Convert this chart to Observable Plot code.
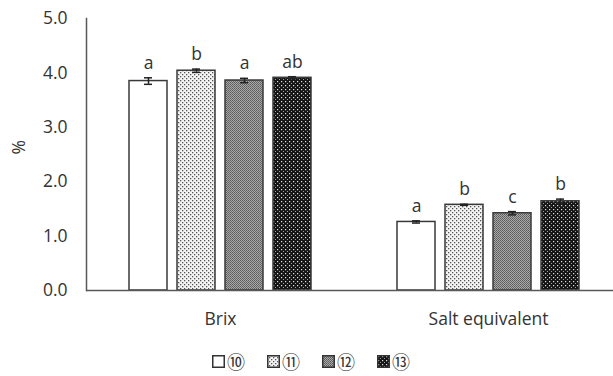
<!DOCTYPE html>
<html>
<head>
<meta charset="utf-8">
<script src="https://cdn.jsdelivr.net/npm/d3@7"></script>
<script src="https://cdn.jsdelivr.net/npm/@observablehq/plot@0.6"></script>
<style>
  html, body { margin: 0; padding: 0; background: #fff; width: 613px; height: 376px; overflow: hidden; }
  #legend { display: flex; justify-content: center; align-items: center; gap: 22px; height: 52px; padding-left: 9px;
            font-family: "Noto Sans CJK JP", sans-serif; font-size: 18px; line-height: 1; color: #333; }
  #legend .item { display: flex; align-items: center; }
  #legend svg { margin-right: 2px; }
</style>
</head>
<body>
<svg width="0" height="0" style="position:absolute">
  <defs>
    <pattern id="p10" width="4" height="4" patternUnits="userSpaceOnUse">
      <rect width="4" height="4" fill="#ffffff"/>
    </pattern>
    <pattern id="p11" width="4" height="4" patternUnits="userSpaceOnUse">
      <rect width="4" height="4" fill="#f4f4f4"/>
      <rect x="0" y="0" width="1.3" height="1.3" fill="#555"/>
      <rect x="2" y="2" width="1.3" height="1.3" fill="#555"/>
    </pattern>
    <pattern id="p12" width="2" height="2" patternUnits="userSpaceOnUse">
      <rect width="2" height="2" fill="#a8a8a8"/>
      <rect x="0" y="0" width="1" height="1" fill="#5a5a5a"/>
      <rect x="1" y="1" width="1" height="1" fill="#6a6a6a"/>
    </pattern>
    <pattern id="p13" width="4" height="4" patternUnits="userSpaceOnUse">
      <rect width="4" height="4" fill="#161616"/>
      <rect x="1" y="1" width="1.2" height="1.2" fill="#e0e0e0"/>
      <rect x="3" y="3" width="1.2" height="1.2" fill="#a0a0a0"/>
    </pattern>
  </defs>
</svg>
<div id="chart"></div>
<div id="legend"></div>
<script>
const categories = ["Brix", "Salt equivalent"];
const series = ["⑩", "⑪", "⑫", "⑬"];
const patterns = ["url(#p10)", "url(#p11)", "url(#p12)", "url(#p13)"];
const brixValues = [3.85, 4.04, 3.86, 3.91];
const brixErrors = [0.06, 0.03, 0.04, 0.02];
const brixLetters = ["a", "b", "a", "ab"];
const saltValues = [1.26, 1.575, 1.42, 1.64];
const saltErrors = [0.02, 0.01, 0.03, 0.04];
const saltLetters = ["a", "b", "c", "b"];
const yTicks = [0, 1, 2, 3, 4, 5];
const yLabel = "%";

const values = [brixValues, saltValues];
const errors = [brixErrors, saltErrors];
const letters = [brixLetters, saltLetters];
const table = categories.flatMap((c, i) => series.map((s, j) => ({
  cat: c, series: s, value: values[i][j], err: errors[i][j], letter: letters[i][j]
})));

const ink = "#333333";
const fs = 17.5;
const chart = Plot.plot({
  width: 613,
  height: 335,
  marginLeft: 86,
  marginRight: 0,
  marginTop: 18,
  marginBottom: 45,
  style: { fontFamily: "'Open Sans', sans-serif", fontSize: fs + "px", color: ink, background: "#fff" },
  fx: { domain: categories, range: [86, 622], padding: 0, label: null },
  x: { domain: series, paddingInner: 0.2, paddingOuter: 0.86, axis: null },
  y: { domain: [0, 5], label: null },
  color: { domain: series, range: patterns },
  marks: [
    Plot.barY(table, { fx: "cat", x: "series", y: "value", fill: "series", stroke: "#3a3a3a", strokeWidth: 1.5 }),
    Plot.ruleX(table, { fx: "cat", x: "series", y1: d => d.value - d.err, y2: d => d.value + d.err, stroke: "#222", strokeWidth: 1.5 }),
    Plot.tickY(table, { fx: "cat", x: "series", y: d => d.value + d.err, insetLeft: 15, insetRight: 15, stroke: "#222", strokeWidth: 1.5 }),
    Plot.tickY(table, { fx: "cat", x: "series", y: d => d.value - d.err, insetLeft: 15, insetRight: 15, stroke: "#222", strokeWidth: 1.5 }),
    Plot.text(table, { fx: "cat", x: "series", y: d => d.value + d.err, text: "letter", lineAnchor: "bottom", dy: -9, fontSize: fs, fill: ink }),
    Plot.ruleY([0], { stroke: "#595959", strokeWidth: 1.5 }),
    Plot.frame({ anchor: "left", fx: () => categories[0], stroke: "#595959", strokeWidth: 1.5 }),
    Plot.text([yLabel], { fx: () => categories[0], frameAnchor: "left", rotate: -90, dx: -67, fontSize: fs, fill: ink }),
    Plot.axisY({ ticks: yTicks, tickFormat: d3.format(".1f"), tickSize: 0, tickPadding: 19, label: null, fontSize: fs }),
    Plot.axisFx({ anchor: "bottom", tickSize: 0, tickPadding: 22, label: null, fontSize: fs })
  ]
});
document.getElementById("chart").appendChild(chart);

const legend = document.getElementById("legend");
series.forEach((s, i) => {
  const item = document.createElement("div");
  item.className = "item";
  item.innerHTML = `<svg width="13" height="13"><rect x="0.75" y="0.75" width="11.5" height="11.5" fill="${patterns[i]}" stroke="#333" stroke-width="1.5"/></svg><span>${s}</span>`;
  legend.appendChild(item);
});
</script>
</body>
</html>
